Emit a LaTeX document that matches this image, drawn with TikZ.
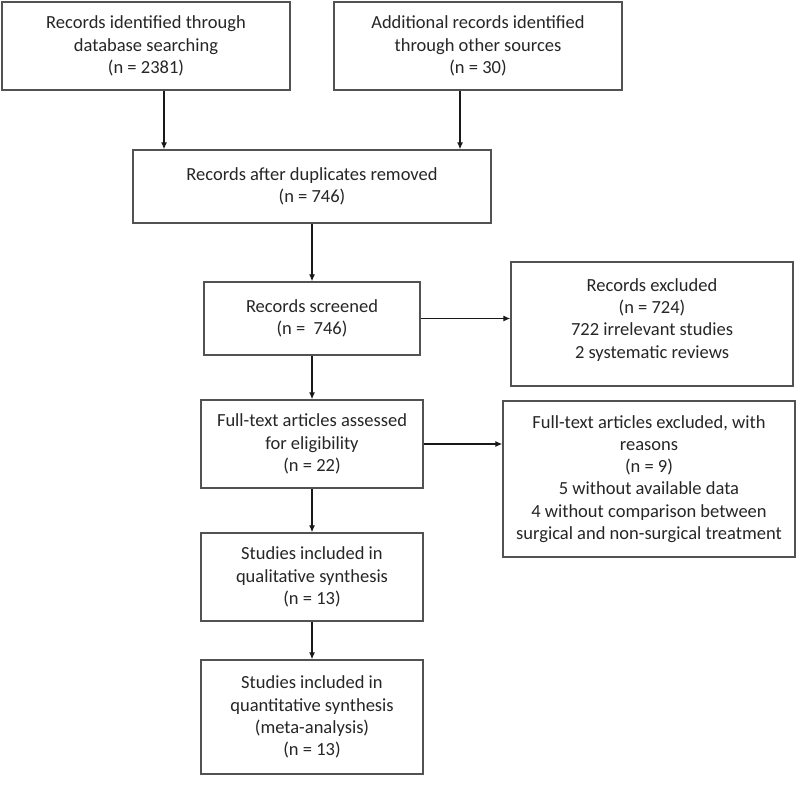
\documentclass[tikz,border=0pt]{standalone}
\usepackage{fontspec}
\setmainfont{Carlito}
\usetikzlibrary{arrows.meta}
\begin{document}
\begin{tikzpicture}[x=1pt,y=-1pt,
  box/.style={draw=black!68, line width=1.4pt, rectangle, inner sep=0pt, align=center,
    text=black!85, font=\fontsize{18.5}{22.2}\selectfont},
  arr/.style={draw=black!90, line width=1.2pt, -{Latex[length=7pt,width=6pt]}}]
\useasboundingbox (0,0) rectangle (800,786);
\fill[white] (0,0) rectangle (800,786);
\node[box, minimum width=288pt, minimum height=88pt] (b1) at (146,46)
  {Records identified through\\database searching\\(n = 2381)};
\node[box, minimum width=288pt, minimum height=88pt] (b2) at (478,46)
  {Additional records identified\\through other sources\\(n = 30)};
\node[box, minimum width=358pt, minimum height=73pt] (b3) at (312,186.5)
  {Records after duplicates removed\\(n = 746)};
\node[box, minimum width=216pt, minimum height=73pt] (b4) at (312,318.5)
  {Records screened\\(n =~ 746)};
\node[box, minimum width=282pt, minimum height=124pt] (b5) at (652,324)
  {Records excluded\\(n = 724)\\722 irrelevant studies\\2 systematic reviews\\[-11pt]\mbox{}};
\node[box, minimum width=222pt, minimum height=88pt] (b6) at (312,444)
  {Full-text articles assessed\\for eligibility\\(n = 22)};
\node[box, minimum width=292pt, minimum height=156pt] (b7) at (649,479)
  {Full-text articles excluded, with\\reasons\\(n = 9)\\5 without available data\\4 without comparison between\\surgical and non-surgical treatment};
\node[box, minimum width=222pt, minimum height=88pt] (b8) at (312,577)
  {Studies included in\\qualitative synthesis\\(n = 13)};
\node[box, minimum width=222pt, minimum height=114pt] (b9) at (312,717)
  {Studies included in\\quantitative synthesis\\(meta-analysis)\\(n = 13)};
\draw[arr] ([xshift=18pt]b1.south) -- ([xshift=18pt]b1.south |- b3.north);
\draw[arr] ([xshift=-18pt]b2.south) -- ([xshift=-18pt]b2.south |- b3.north);
\draw[arr] (b3) -- (b4);
\draw[arr] (b4) -- (b6);
\draw[arr] (b6) -- (b8);
\draw[arr] (b8) -- (b9);
\draw[arr] (b4.east) -- (b4.east -| b5.west);
\draw[arr] (b6.east) -- (b6.east -| b7.west);
\end{tikzpicture}
\end{document}
